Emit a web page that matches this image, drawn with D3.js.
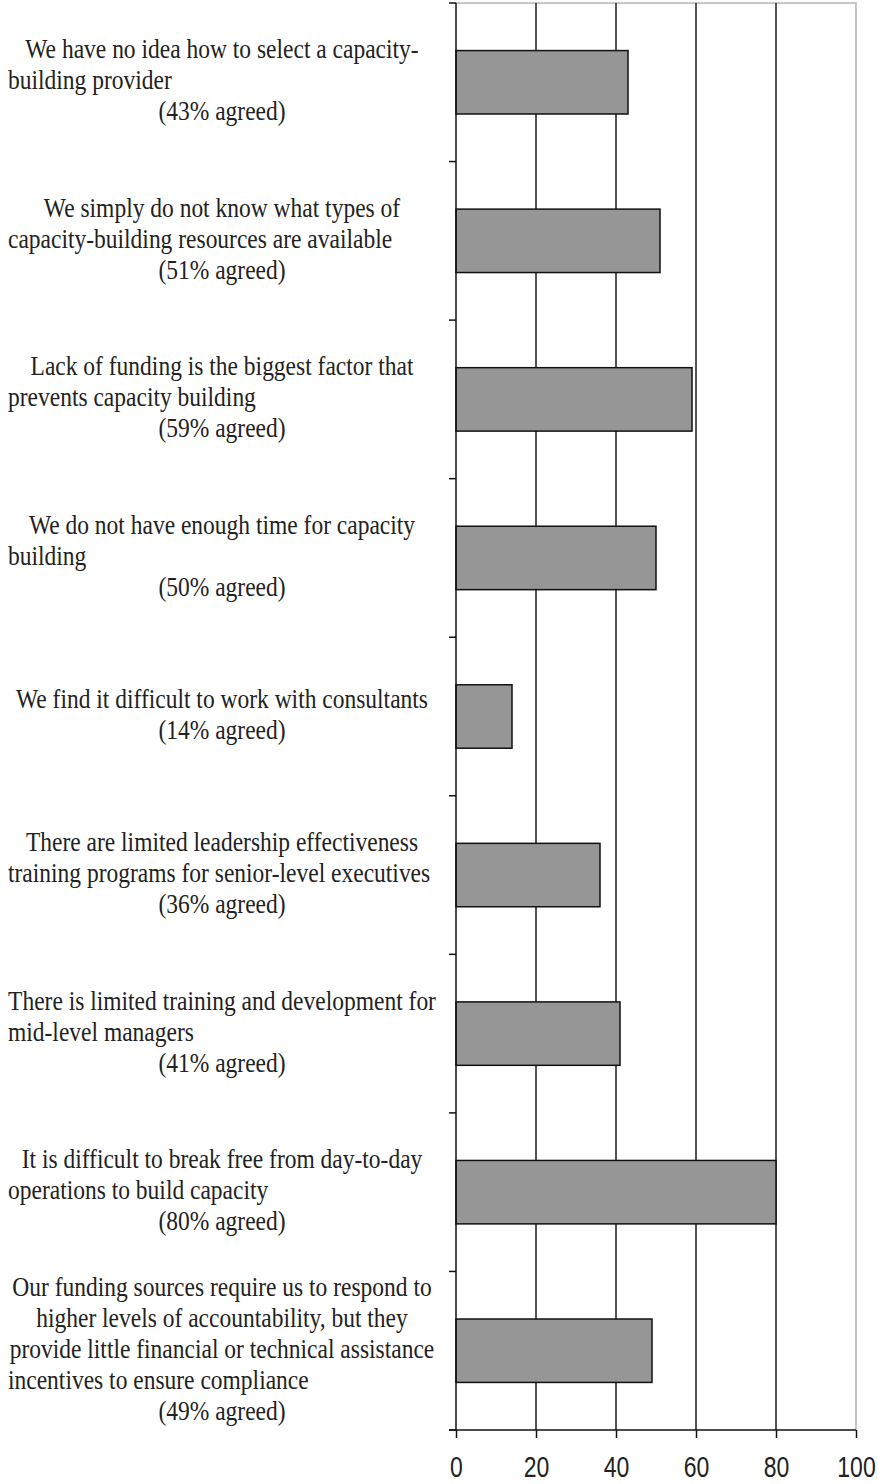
<!DOCTYPE html>
<html>
<head>
<meta charset="utf-8">
<script src="https://cdn.jsdelivr.net/npm/d3@7"></script>
<style>
    body { margin: 0; background: #fff; }
    svg { display: block; }
</style>
</head>
<body>
<svg id="chart"></svg>
<script>
const width = 878;
const height = 1484;

// statements, each split into the lines used in the picture
const statements = [
    ["We have no idea how to select a capacity-", "building provider"],
    ["We simply do not know what types of", "capacity-building resources are available"],
    ["Lack of funding is the biggest factor that", "prevents capacity building"],
    ["We do not have enough time for capacity", "building"],
    ["We find it difficult to work with consultants"],
    ["There are limited leadership effectiveness", "training programs for senior-level executives"],
    ["There is limited training and development for", "mid-level managers"],
    ["It is difficult to break free from day-to-day", "operations to build capacity"],
    ["Our funding sources require us to respond to", "higher levels of accountability, but they",
        "provide little financial or technical assistance", "incentives to ensure compliance"]
];
const agreed = [43, 51, 59, 50, 14, 36, 41, 80, 49];
const xTicks = [0, 20, 40, 60, 80, 100];

const plotLeft = 456, plotRight = 856, plotTop = 3, plotBottom = 1430;
// the source picture is stretched vertically, so text is scaled the same way
const labelStretch = 1.15;
const tickStretch = 1.27;
const lineGap = 31;

let svg = d3.select("#chart")
    .attr("width", width)
    .attr("height", height);

let x = d3.scaleLinear()
    .domain([0, 100])
    .range([plotLeft, plotRight]);
let y = d3.scaleBand()
    .domain(d3.range(agreed.length))
    .range([plotTop, plotBottom])
    .paddingInner(0.6)
    .paddingOuter(0.3);

// plot frame: grey top and right edges
svg.append("path")
    .attr("d", `M${plotLeft},${plotTop}H${plotRight}V${plotBottom}`)
    .attr("fill", "none")
    .attr("stroke", "#b4b4b4")
    .attr("stroke-width", 1.5);

// vertical grid lines
svg.append("g")
    .selectAll("line")
    .data(xTicks.filter(d => d > 0 && d < 100))
    .join("line")
    .attr("x1", d => x(d))
    .attr("x2", d => x(d))
    .attr("y1", plotTop)
    .attr("y2", plotBottom)
    .attr("stroke", "#1a1a1a")
    .attr("stroke-width", 1.5);

// bars
svg.append("g")
    .selectAll("rect")
    .data(agreed)
    .join("rect")
    .attr("x", x(0))
    .attr("y", (d, i) => y(i))
    .attr("width", d => x(d) - x(0))
    .attr("height", y.bandwidth())
    .attr("fill", "#969696")
    .attr("stroke", "#111")
    .attr("stroke-width", 1.5);

// left axis with ticks between categories
let halfGap = y.paddingInner() * y.step() / 2;
let yEdges = d3.range(agreed.length).map(i => y(i) - halfGap).concat([plotBottom]);
let leftAxis = svg.append("g");
leftAxis.append("line")
    .attr("x1", plotLeft).attr("x2", plotLeft)
    .attr("y1", plotTop).attr("y2", plotBottom)
    .attr("stroke", "#111")
    .attr("stroke-width", 1.5);
leftAxis.selectAll(".tick")
    .data(yEdges)
    .join("line")
    .attr("class", "tick")
    .attr("x1", plotLeft - 7).attr("x2", plotLeft)
    .attr("y1", d => d).attr("y2", d => d)
    .attr("stroke", "#111")
    .attr("stroke-width", 1.5);

// bottom axis
let xAxis = svg.append("g")
    .attr("transform", `translate(0,${plotBottom})`)
    .call(d3.axisBottom(x).tickValues(xTicks).tickSize(8).tickFormat(d3.format("d")));
xAxis.select(".domain")
    .attr("d", `M${plotLeft - 7},0H${plotRight}`)
    .attr("stroke", "#111")
    .attr("stroke-width", 1.5);
xAxis.selectAll(".tick line")
    .attr("stroke", "#111")
    .attr("stroke-width", 1.5);
xAxis.selectAll(".tick text").remove();
xAxis.selectAll(".tick")
    .append("text")
    .attr("transform", `translate(0,47) scale(1,${tickStretch})`)
    .attr("text-anchor", "middle")
    .attr("font-family", "Liberation Sans, Arial, sans-serif")
    .attr("font-size", 23)
    .attr("fill", "#222")
    .text(d => d);

// category labels
let labelCenter = 222;
let labelLeft = 8;
let labels = svg.append("g")
    .attr("font-family", "Liberation Serif, Times New Roman, serif")
    .attr("font-size", 23.5)
    .attr("fill", "#222");
statements.forEach((lines, i) => {
    let all = lines.concat([`(${agreed[i]}% agreed)`]);
    let mid = y(i) + y.bandwidth() / 2 + 7;
    all.forEach((t, j) => {
        let base = mid + (j - (all.length - 1) / 2) * lineGap;
        let lastStatement = lines.length > 1 && j === lines.length - 1;
        labels.append("text")
            .attr("transform", `translate(${lastStatement ? labelLeft : labelCenter},${base}) scale(1,${labelStretch})`)
            .attr("text-anchor", lastStatement ? "start" : "middle")
            .text(t);
    });
});
</script>
</body>
</html>
